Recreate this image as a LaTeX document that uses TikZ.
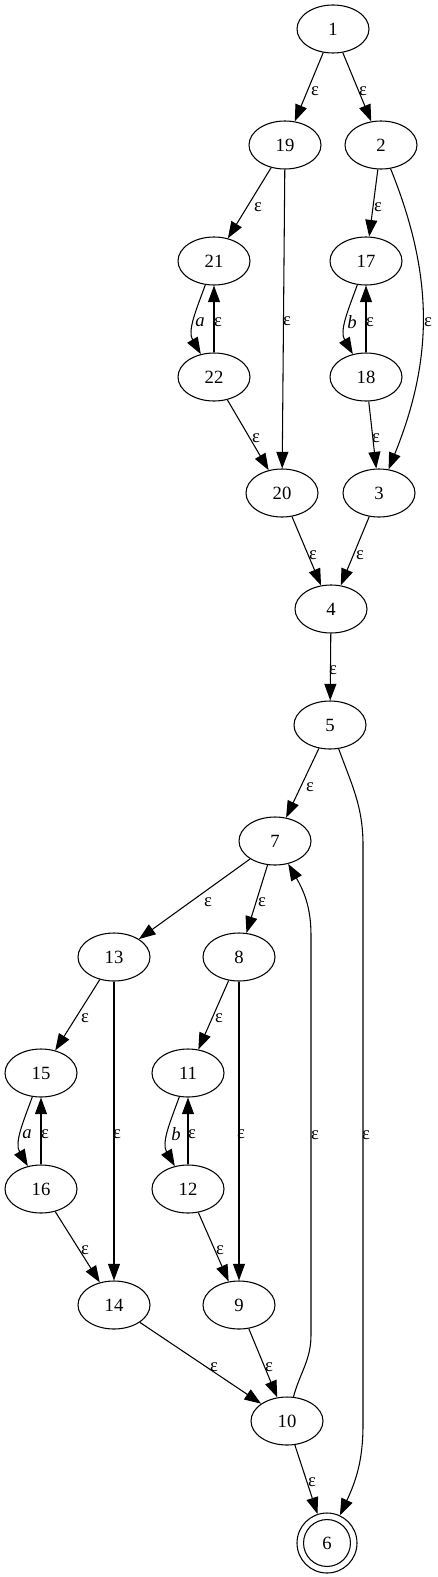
\documentclass[tikz,border=0pt]{standalone}
\usepackage{fontspec}
\setmainfont{Liberation Serif}
\usetikzlibrary{arrows.meta,shapes.geometric}
\begin{document}
\begin{tikzpicture}[x=0.75pt,y=0.75pt,
  st/.style={draw,ellipse,minimum width=54pt,minimum height=36pt,inner sep=0pt,line width=0.8pt,font=\fontsize{14pt}{16pt}\selectfont},
  acc/.style={draw,circle,minimum size=45pt,inner sep=0pt,line width=0.8pt,font=\fontsize{14pt}{16pt}\selectfont},
  edge/.style={line width=0.8pt,-{Triangle[length=12.5pt,width=9pt]}},
  lbl/.style={font=\fontsize{14pt}{16pt}\selectfont,inner sep=0pt}]
\useasboundingbox (0,0) rectangle (437,-1577);
% nodes
\node[st] (n1)  at (333,-29)  {1};
\node[st] (n19) at (285,-145) {19};
\node[st] (n2)  at (381,-145) {2};
\node[st] (n21) at (214,-261) {21};
\node[st] (n17) at (366,-261) {17};
\node[st] (n22) at (214,-377) {22};
\node[st] (n18) at (366,-377) {18};
\node[st] (n20) at (282,-493) {20};
\node[st] (n3)  at (379,-493) {3};
\node[st] (n4)  at (331,-609) {4};
\node[st] (n5)  at (330,-725) {5};
\node[st] (n7)  at (275,-841) {7};
\node[st] (n13) at (114,-957) {13};
\node[st] (n8)  at (239,-957) {8};
\node[st] (n15) at (41,-1073) {15};
\node[st] (n11) at (188,-1073) {11};
\node[st] (n16) at (41,-1189) {16};
\node[st] (n12) at (188,-1189) {12};
\node[st] (n14) at (114,-1305) {14};
\node[st] (n9)  at (239,-1305) {9};
\node[st] (n10) at (287,-1421) {10};
\node[acc] (n6) at (327,-1543) {6};
\draw[line width=0.8pt] (n6.center) circle (17.6pt);
% waypoints
\coordinate (w1) at (363,-845);
\coordinate (w2) at (363,-1425);
\coordinate (w3) at (311,-1335);
\coordinate (w4) at (311,-935);
% edges
\draw[edge] (n1) -- (n19) node[lbl] at (315,-91) {ε};
\draw[edge] (n1) -- (n2) node[lbl] at (363,-91) {ε};
\draw[edge] (n19) -- (n21) node[lbl] at (258,-207) {ε};
\draw[edge] (n19) -- (n20) node[lbl] at (287,-321) {ε};
\draw[edge] (n2) -- (n17) node[lbl] at (378,-207) {ε};
\draw[edge] (n2) to[out=-68,in=68] (n3) node[lbl] at (428,-322) {ε};
\draw[edge] (n21) to[out=-110,in=120] (n22) node[lbl] at (200,-322) {\textit{a}};
\draw[edge] (n22) -- (n21) node[lbl] at (218,-322) {ε};
\draw[edge] (n17) to[out=-110,in=120] (n18) node[lbl] at (352,-322) {\textit{b}};
\draw[edge] (n18) -- (n17) node[lbl] at (370,-322) {ε};
\draw[edge] (n22) -- (n20) node[lbl] at (256,-438) {ε};
\draw[edge] (n18) -- (n3) node[lbl] at (376,-438) {ε};
\draw[edge] (n20) -- (n4) node[lbl] at (313,-555) {ε};
\draw[edge] (n3) -- (n4) node[lbl] at (360,-555) {ε};
\draw[edge] (n4) -- (n5) node[lbl] at (333,-670) {ε};
\draw[edge] (n5) -- (n7) node[lbl] at (310,-787) {ε};
\draw[edge] (n5) to[out=-70,in=90] (w1) -- (w2) to[out=-90,in=65] (n6) node[lbl] at (366,-1135) {ε};
\draw[edge] (n7) -- (n13) node[lbl] at (208,-902) {ε};
\draw[edge] (n7) -- (n8) node[lbl] at (262,-902) {ε};
\draw[edge] (n13) -- (n15) node[lbl] at (85,-1018) {ε};
\draw[edge] (n13) -- (n14) node[lbl] at (117,-1134) {ε};
\draw[edge] (n8) -- (n11) node[lbl] at (219,-1018) {ε};
\draw[edge] (n8) -- (n9) node[lbl] at (241,-1134) {ε};
\draw[edge] (n15) to[out=-110,in=120] (n16) node[lbl] at (27,-1134) {\textit{a}};
\draw[edge] (n16) -- (n15) node[lbl] at (45,-1134) {ε};
\draw[edge] (n11) to[out=-110,in=120] (n12) node[lbl] at (176,-1134) {\textit{b}};
\draw[edge] (n12) -- (n11) node[lbl] at (192,-1134) {ε};
\draw[edge] (n16) -- (n14) node[lbl] at (85,-1250) {ε};
\draw[edge] (n12) -- (n9) node[lbl] at (220,-1250) {ε};
\draw[edge] (n14) -- (n10) node[lbl] at (214,-1367) {ε};
\draw[edge] (n9) -- (n10) node[lbl] at (269,-1367) {ε};
\draw[edge] (n10) to[out=75,in=-90] (w3) -- (w4) to[out=90,in=-60] (n7) node[lbl] at (315,-1135) {ε};
\draw[edge] (n10) -- (n6) node[lbl] at (312,-1482) {ε};
\end{tikzpicture}
\end{document}
